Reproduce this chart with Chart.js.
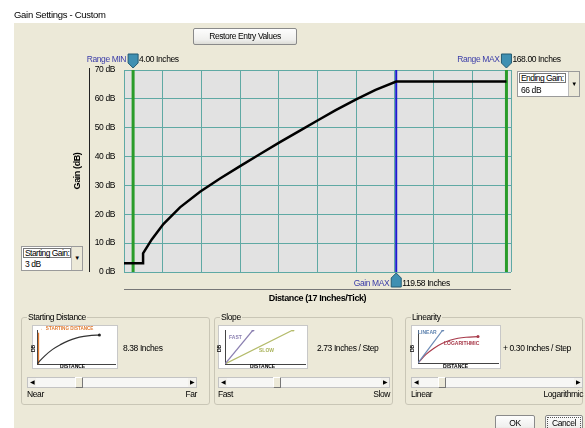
<!DOCTYPE html>
<html>
<head>
<meta charset="utf-8">
<script src="https://cdn.jsdelivr.net/npm/chart.js@4.4.0/dist/chart.umd.min.js"></script>
<style>
  html, body { margin: 0; padding: 0; background: #fff; }
  #wrap { position: relative; width: 585px; height: 428px; overflow: hidden;
    font-family: "Liberation Sans", Arial, sans-serif;
    font-size: 8.5px; letter-spacing: -0.4px; color: #000; }
  #panel { position: absolute; left: 14px; top: 23px; right: 0; bottom: 0; background: #ece9d8; }
  #main { position: absolute; left: 0; top: 0; }
  .t { position: absolute; white-space: nowrap; line-height: 1; }
  .r { transform: translateX(-100%); }
  .btn { position: absolute; box-sizing: border-box; border: 1px solid #8a8a8a; border-radius: 2px;
    background: linear-gradient(#fdfdfd, #f0f0ee 70%, #dcdcd6); text-align: center; white-space: nowrap; }
  .group { position: absolute; box-sizing: border-box; border: 1px solid #c9c6b6; border-radius: 3px; }
  .group .lbl { position: absolute; left: 5px; top: -5px; background: #ece9d8; padding: 0 1px; line-height: 1; white-space: nowrap; }
  .combo { position: absolute; box-sizing: border-box; background: #fff; border: 1px solid #9a9a9a; }
  .combo .head { position: absolute; left: 1px; top: 1px; border: 1px solid #777; background: #fff; line-height: 8px; height: 8px;
    padding: 0 1px; white-space: nowrap; letter-spacing: -0.55px; z-index: 1; }
  .combo .val { position: absolute; left: 3px; line-height: 1; white-space: nowrap; }
  .combo .dd { position: absolute; right: 0; top: 0; bottom: 0; width: 10px; background: #ece9d8;
    border-left: 1px solid #bbb; font-size: 6px; text-align: center; }
  .thumbbox { position: absolute; background: #fff; border: 1px solid #c8c8c8; box-sizing: border-box; }
  .thumbbox canvas { position: absolute; left: 0; top: 0; }
  .tiny { position: absolute; white-space: nowrap; line-height: 1; font-size: 5px; font-weight: bold; letter-spacing: 0; }
  .slider { position: absolute; height: 11px; box-sizing: border-box; background: #f7f7f5; border: 1px solid #c3c3c3; }
  .slider .arr { position: absolute; top: 0; width: 8px; height: 9px; background: #f2f1ec; font-size: 6px; line-height: 9px; text-align: center; letter-spacing: 0; }
  .slider .knob { position: absolute; top: -1px; width: 8px; height: 11px; box-sizing: border-box; background: #ece9d8;
    border: 1px solid; border-color: #fff #777 #777 #fff; }
</style>
</head>
<body>
<div id="wrap">
  <div id="panel"></div>
  <canvas id="main" width="585" height="428"></canvas>

  <div class="t" style="left:14px;top:10px;font-size:9.5px;letter-spacing:-0.3px;">Gain Settings - Custom</div>
  <div class="btn" style="left:193px;top:28px;width:104px;height:17px;line-height:15px;">Restore Entry Values</div>

  <div id="mk"></div>

  <div class="combo" style="left:517px;top:71px;width:63px;height:26px;">
    <div class="head">Ending Gain:</div>
    <div class="val" style="top:14px;">66 dB</div>
    <div class="dd" style="line-height:24px;">&#9660;</div>
  </div>
  <div class="combo" style="left:21px;top:246px;width:62px;height:25px;">
    <div class="head">Starting Gain:</div>
    <div class="val" style="top:13px;">3 dB</div>
    <div class="dd" style="line-height:23px;">&#9660;</div>
  </div>

  <div class="group" style="left:21px;top:317px;width:189px;height:88px;"><div class="lbl">Starting Distance</div></div>
  <div class="group" style="left:214px;top:317px;width:179px;height:88px;"><div class="lbl">Slope</div></div>
  <div class="group" style="left:405px;top:317px;width:178px;height:88px;"><div class="lbl">Linearity</div></div>

  <div class="thumbbox" style="left:32px;top:325px;width:86px;height:44px;"><canvas id="icSd" width="86" height="44"></canvas></div>
  <div class="thumbbox" style="left:218px;top:325px;width:90px;height:44px;"><canvas id="icSl" width="90" height="44"></canvas></div>
  <div class="thumbbox" style="left:411px;top:325px;width:90px;height:44px;"><canvas id="icLi" width="90" height="44"></canvas></div>

  <div class="tiny" style="left:40px;top:327px;color:#e07a30;font-size:4.6px;">&#8592; STARTING DISTANCE</div>
  <div class="tiny" style="left:60px;top:364px;">DISTANCE</div>
  <div class="tiny" style="left:30px;top:346px;transform:rotate(-90deg);">DB</div>
  <div class="tiny" style="left:229px;top:335px;color:#8a7fb0;">FAST</div>
  <div class="tiny" style="left:259px;top:348px;color:#a9b35a;">SLOW</div>
  <div class="tiny" style="left:250px;top:364px;">DISTANCE</div>
  <div class="tiny" style="left:216px;top:346px;transform:rotate(-90deg);">DB</div>
  <div class="tiny" style="left:418px;top:330px;color:#5f84b0;">LINEAR</div>
  <div class="tiny" style="left:444px;top:341px;color:#a83a4a;">LOGARITHMIC</div>
  <div class="tiny" style="left:443px;top:364px;">DISTANCE</div>
  <div class="tiny" style="left:409px;top:346px;transform:rotate(-90deg);">DB</div>

  <div class="t" style="left:123px;top:344px;">8.38 Inches</div>
  <div class="t" style="left:317px;top:344px;">2.73 Inches / Step</div>
  <div class="t" style="left:503px;top:344px;">+ 0.30 Inches / Step</div>

  <div class="slider" style="left:27px;top:377px;width:170px;">
    <div class="arr" style="left:0;">&#9664;</div><div class="knob" style="left:47px;"></div><div class="arr" style="right:0;">&#9654;</div>
  </div>
  <div class="slider" style="left:218px;top:377px;width:172px;">
    <div class="arr" style="left:0;">&#9664;</div><div class="knob" style="left:54px;"></div><div class="arr" style="right:0;">&#9654;</div>
  </div>
  <div class="slider" style="left:411px;top:377px;width:172px;">
    <div class="arr" style="left:0;">&#9664;</div><div class="knob" style="left:26px;"></div><div class="arr" style="right:0;">&#9654;</div>
  </div>
  <div class="t" style="left:27px;top:390px;">Near</div>
  <div class="t r" style="left:197px;top:390px;">Far</div>
  <div class="t" style="left:218px;top:390px;">Fast</div>
  <div class="t r" style="left:390px;top:390px;">Slow</div>
  <div class="t" style="left:411px;top:390px;">Linear</div>
  <div class="t r" style="left:583px;top:390px;">Logarithmic</div>

  <div class="btn" style="left:495px;top:415px;width:40px;height:17px;line-height:15px;">OK</div>
  <div class="btn" style="left:545px;top:415px;width:38px;height:17px;line-height:15px;outline:1px dotted #555;outline-offset:-3px;">Cancel</div>
</div>

<script>
// gain curve (inches vs dB)
const distance = [0, 8.38, 8.38, 12.2, 17.3, 24.6, 33.4, 42.2, 51.0, 59.8, 68.5, 77.3, 85.0, 93.0, 102.2, 110.5, 119.58, 168.0];
const gain     = [3, 3, 6.5, 11.3, 16.6, 22.4, 27.8, 32.4, 36.7, 40.9, 45.0, 49.0, 52.5, 56.1, 59.9, 63.1, 66, 66];

const rangeMin = 4.00;
const rangeMax = 168.00;
const gainMax = 119.58;

const inchesPerTick = 17;
const distanceTicks = [0, 17, 34, 51, 68, 85, 102, 119, 136, 153, 170];
const gainTicks = [0, 10, 20, 30, 40, 50, 60, 70];

// little pictures in the option boxes (normalised 0..1)
const sdX = [0, 0.1, 0.2, 0.3, 0.4, 0.5, 0.6, 0.7, 0.8];
const sdY = [0, 0.24, 0.43, 0.57, 0.68, 0.76, 0.81, 0.84, 0.85];
const fastX = [0, 0.35], fastY = [0, 1];
const slowX = [0, 0.85], slowY = [0, 1];
const linX = [0, 0.31], linY = [0, 1];
const logX = [0, 0.1, 0.2, 0.3, 0.4, 0.5, 0.6, 0.75];
const logY = [0, 0.26, 0.45, 0.59, 0.69, 0.75, 0.78, 0.8];

const pts = (xs, ys) => xs.map((x, i) => ({ x, y: ys[i] }));
const vline = v => [{ x: v, y: 0 }, { x: v, y: 70 }];

const gridColor = '#5fa9a4';

const plotBg = {
  id: 'plotBg',
  beforeDraw(chart) {
    const { ctx, chartArea: a } = chart;
    ctx.save();
    ctx.fillStyle = '#e2e2e2';
    ctx.fillRect(a.left, a.top, a.right - a.left, a.bottom - a.top);
    ctx.restore();
  }
};

function marker(ctx, x, tipY, dir) {
  const w = 5, tip = 5, body = 9;
  const b = tipY - dir * tip;
  ctx.beginPath();
  ctx.moveTo(x, tipY);
  ctx.lineTo(x + w, b);
  ctx.lineTo(x + w, b - dir * body);
  ctx.lineTo(x - w, b - dir * body);
  ctx.lineTo(x - w, b);
  ctx.closePath();
  ctx.fillStyle = '#3f90b2';
  ctx.fill();
  ctx.strokeStyle = '#235a72';
  ctx.lineWidth = 1;
  ctx.stroke();
}

const extras = {
  id: 'extras',
  afterDraw(chart) {
    const { ctx, chartArea: a, scales: { x } } = chart;
    ctx.save();
    // detached axis lines
    ctx.strokeStyle = '#222';
    ctx.lineWidth = 1;
    ctx.beginPath();
    ctx.moveTo(89.5, a.top - 2);
    ctx.lineTo(89.5, a.bottom);
    ctx.stroke();
    ctx.strokeStyle = '#777';
    ctx.beginPath();
    ctx.moveTo(a.left, a.bottom + 17.5);
    ctx.lineTo(a.right, a.bottom + 17.5);
    ctx.stroke();
    marker(ctx, x.getPixelForValue(rangeMin), a.top - 2, 1);
    marker(ctx, x.getPixelForValue(rangeMax), a.top - 2, 1);
    marker(ctx, x.getPixelForValue(gainMax), a.bottom + 1, -1);
    ctx.restore();
  }
};

const chart = new Chart(document.getElementById('main'), {
  type: 'line',
  data: {
    datasets: [
      { data: pts(distance, gain), borderColor: '#000', borderWidth: 2.5 },
      { data: vline(gainMax), borderColor: '#1b1bd0', borderWidth: 2 },
      { data: vline(rangeMin), borderColor: '#2a9c2a', borderWidth: 3 },
      { data: vline(rangeMax), borderColor: '#2a9c2a', borderWidth: 3 },
    ],
  },
  options: {
    responsive: false,
    animation: false,
    events: [],
    elements: { point: { radius: 0 }, line: { tension: 0 } },
    layout: { padding: { left: 70, top: 70, right: 74, bottom: 122 } },
    plugins: { legend: { display: false }, tooltip: { enabled: false } },
    scales: {
      x: {
        type: 'linear', min: 0, max: 170,
        afterBuildTicks: s => { s.ticks = distanceTicks.map(v => ({ value: v })); },
        afterFit: s => { s.height = 34; },
        ticks: { display: false },
        grid: { color: gridColor, drawTicks: false },
        border: { display: false },
        title: { display: true, text: 'Distance (' + inchesPerTick + ' Inches/Tick)', color: '#000',
          font: { family: 'Liberation Sans', size: 9, weight: 'bold' }, padding: { top: 0, bottom: 2 } },
      },
      y: {
        type: 'linear', min: 0, max: 70,
        afterBuildTicks: s => { s.ticks = gainTicks.map(v => ({ value: v })); },
        afterFit: s => { s.width = 54; },
        ticks: { callback: v => v + ' dB', color: '#000', padding: 9,
          font: { family: 'Liberation Sans', size: 8.5 } },
        grid: { color: gridColor, drawTicks: false },
        border: { display: false },
        title: { display: true, text: 'Gain (dB)', color: '#000',
          font: { family: 'Liberation Sans', size: 9, weight: 'bold' }, padding: { top: 2, bottom: 0 } },
      },
    },
  },
  plugins: [plotBg, extras],
});

// marker captions, placed from the chart's own x scale
(function () {
  const x = chart.scales.x, a = chart.chartArea, mk = document.getElementById('mk');
  const add = (txt, left, top, color, right) => {
    const d = document.createElement('div');
    d.className = 't' + (right ? ' r' : '');
    d.style.left = left + 'px';
    d.style.top = top + 'px';
    d.style.color = color;
    d.textContent = txt;
    mk.appendChild(d);
  };
  const pMin = x.getPixelForValue(rangeMin), pMax = x.getPixelForValue(rangeMax), pGain = x.getPixelForValue(gainMax);
  add('Range MIN', pMin - 7, a.top - 15, '#3a3ca8', true);
  add(rangeMin.toFixed(2) + ' Inches', pMin + 6, a.top - 15, '#000');
  add('Range MAX', pMax - 7, a.top - 15, '#3a3ca8', true);
  add(rangeMax.toFixed(2) + ' Inches', pMax + 6, a.top - 15, '#000');
  add('Gain MAX', pGain - 7, a.bottom + 7, '#3a3ca8', true);
  add(gainMax.toFixed(2) + ' Inches', pGain + 6, a.bottom + 7, '#000');
})();

function mini(id, datasets, pad) {
  return new Chart(document.getElementById(id), {
    type: 'line',
    data: { datasets },
    options: {
      responsive: false, animation: false, events: [],
      layout: { padding: pad },
      elements: { line: { tension: 0.4, borderWidth: 1.2 } },
      plugins: { legend: { display: false }, tooltip: { enabled: false } },
      scales: {
        x: { type: 'linear', min: 0, max: 1, ticks: { display: false }, grid: { display: false, drawTicks: false }, border: { color: '#444' } },
        y: { type: 'linear', min: 0, max: 1, ticks: { display: false }, grid: { display: false, drawTicks: false }, border: { color: '#444' } },
      },
    },
  });
}
const endDot = n => Array.from({ length: n }, (_, i) => (i === n - 1 ? 1.5 : 0));

mini('icSd', [
  { data: pts(sdX, sdY), borderColor: '#333', pointRadius: endDot(sdX.length), pointBackgroundColor: '#222', pointBorderWidth: 0 },
  { data: [{ x: 0.02, y: 0 }, { x: 0.02, y: 0.92 }], borderColor: '#e07a30', pointRadius: 0, tension: 0 },
], { left: 4, top: 1, right: 2, bottom: 6 });
mini('icSl', [
  { data: pts(fastX, fastY), borderColor: '#8a7fb0', pointRadius: endDot(2), pointBackgroundColor: '#8a7fb0', pointBorderWidth: 0, tension: 0 },
  { data: pts(slowX, slowY), borderColor: '#b4bb6a', pointRadius: endDot(2), pointBackgroundColor: '#b4bb6a', pointBorderWidth: 0, tension: 0 },
], { left: 6, top: 1, right: 2, bottom: 6 });
mini('icLi', [
  { data: pts(linX, linY), borderColor: '#6a8ab5', pointRadius: endDot(2), pointBackgroundColor: '#6a8ab5', pointBorderWidth: 0, tension: 0 },
  { data: pts(logX, logY), borderColor: '#a83a4a', pointRadius: endDot(logX.length), pointBackgroundColor: '#a83a4a', pointBorderWidth: 0 },
], { left: 6, top: 1, right: 2, bottom: 7 });
</script>
</body>
</html>
